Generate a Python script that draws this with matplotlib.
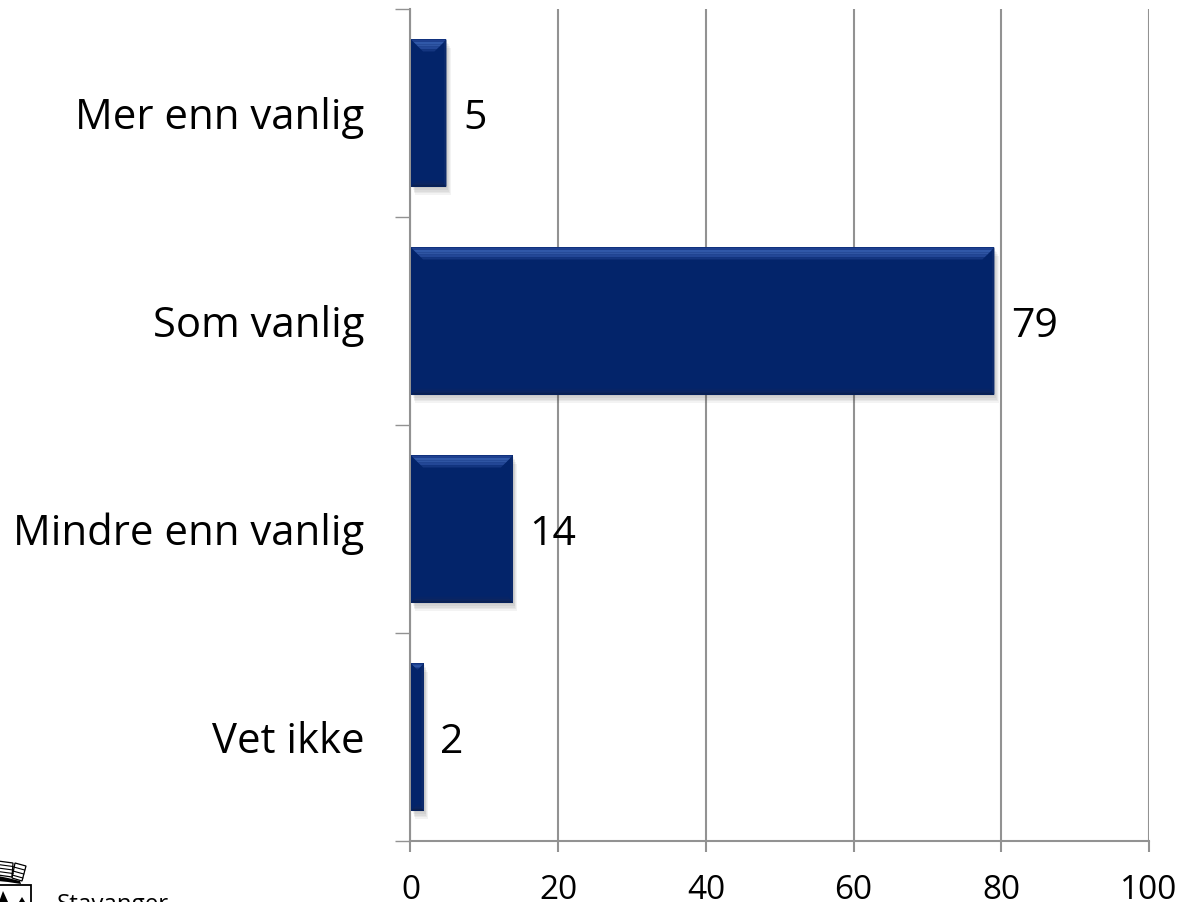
#!/usr/bin/env python3
"""Stolpediagram: Mer enn vanlig / Som vanlig / Mindre enn vanlig / Vet ikke."""

import matplotlib
matplotlib.use("Agg")
import matplotlib.pyplot as plt
import matplotlib.patheffects as pe
from matplotlib.patches import Polygon, Rectangle

plt.rcParams["font.family"] = ["Open Sans", "DejaVu Sans"]

CATEGORIES = ["Mer enn vanlig", "Som vanlig", "Mindre enn vanlig", "Vet ikke"]
VALUES = [4.8, 79.0, 13.8, 1.75]
VALUE_LABELS = ["5", "79", "14", "2"]
XTICKS = [0, 20, 40, 60, 80, 100]

W, H = 1179, 903
GREY = "#929292"
NAVY = "#03246a"
TOP_BANDS = ["#1f4090", "#3058a8", "#2f55a3", "#234796", "#143680"]
BOTTOM_BANDS = ["#0a2050", "#0c2560", "#072466"]
PX_X = 100 / 738.5
PX_Y = 1 / 208


def trapezoids(ax, x0, x1, y_edge, sign, bands, step, inset=1.0):
    # avfaset kant: et lag per farge
    for i, col in enumerate(bands):
        a, b = i * step, (i + 1) * step
        ax.add_patch(Polygon([
            (x0 + a * PX_X, y_edge + sign * a * PX_Y),
            (x1 - a * inset * PX_X, y_edge + sign * a * PX_Y),
            (x1 - b * inset * PX_X, y_edge + sign * b * PX_Y),
            (x0 + b * PX_X, y_edge + sign * b * PX_Y),
        ], fc=col, ec="none", zorder=4))


def bevel(ax, bar):
    x0, x1 = bar.get_x(), bar.get_x() + bar.get_width()
    y0, y1 = bar.get_y(), bar.get_y() + bar.get_height()
    step = 2.4 if bar.get_width() > 3 else 1.2
    trapezoids(ax, x0, x1, y0, 1, TOP_BANDS, step)
    trapezoids(ax, x0, x1, y1, -1, BOTTOM_BANDS, 2.0, inset=0.8)
    ax.add_patch(Polygon([(x1, y0), (x1, y1), (x1 - 2.5 * PX_X, y1 - 2.5 * PX_Y),
                          (x1 - 2.5 * PX_X, y0 + 2.5 * PX_Y)],
                         fc="#0c2a6c", ec="none", zorder=4))


def main():
    fig = plt.figure(figsize=(W / 100, H / 100), dpi=100)
    ax = fig.add_axes([410.5 / W, 1 - 842 / H, 738.5 / W, 832 / H])

    ypos = list(range(len(CATEGORIES)))
    bars = ax.barh(ypos, VALUES, height=0.707, left=0.07, color=NAVY, zorder=3)
    shadow = [pe.SimplePatchShadow(offset=(o * 0.6, -o * 1.2), shadow_rgbFace="#333333", alpha=0.06)
              for o in (5, 4, 3, 2, 1)]
    for b in bars:
        b.set_path_effects(shadow + [pe.Normal()])
        bevel(ax, b)

    ax.set_xlim(0, 100)
    ax.set_ylim(3.5, -0.5)
    ax.set_yticks([i - 0.5 for i in range(len(CATEGORIES) + 1)])
    ax.set_yticklabels([])
    ax.set_xticks(XTICKS)
    ax.set_xticklabels([str(v) for v in XTICKS], fontsize=24)
    ax.tick_params(axis="x", length=8, width=1.5, color=GREY, pad=15, labelcolor="black")
    ax.tick_params(axis="y", length=11, width=1.0, color=GREY)
    ax.grid(axis="x", color=GREY, lw=1.5, zorder=1)
    ax.set_axisbelow(True)

    for side in ("top", "right"):
        ax.spines[side].set_visible(False)
    for side in ("left", "bottom"):
        ax.spines[side].set_color(GREY)
        ax.spines[side].set_linewidth(1.5)

    for y, cat, v, lab in zip(ypos, CATEGORIES, VALUES, VALUE_LABELS):
        ax.annotate(cat, (0, y), xytext=(-46, -4), textcoords="offset pixels",
                    ha="right", va="center", fontsize=30.2, color="black")
        ax.annotate(lab, (v, y), xytext=(17, -5), textcoords="offset pixels",
                    ha="left", va="center", fontsize=29.5, color="black", zorder=6)

    # logo nederst til venstre, beskaaret av bildekanten
    ax_logo = fig.add_axes([0, 0, 1, 1], facecolor="none")
    ax_logo.set_xlim(0, W)
    ax_logo.set_ylim(H, 0)
    ax_logo.axis("off")
    ax_logo.add_patch(Rectangle((-5, 886), 35.5, 30, fc="white", ec="black", lw=1.3))
    ax_logo.add_patch(Polygon([(-2, 877), (8, 879), (20, 882), (21, 885), (8, 883), (-2, 882)],
                              fc="black", ec="none"))
    # taarn paa kronen
    ax_logo.add_patch(Polygon([(15, 864), (26, 867), (22, 882), (12, 879)],
                              fc="white", ec="black", lw=0.9))
    ax_logo.add_patch(Polygon([(-2, 862), (13, 864), (12, 878), (-2, 876)],
                              fc="white", ec="black", lw=0.9))
    for i in range(1, 4):
        ax_logo.plot([14.5 - i * 0.8, 25.5 - i * 0.9], [864 + i * 4, 867 + i * 4], color="black", lw=0.8)
        ax_logo.plot([-2, 13], [862 + i * 3.5, 864 + i * 3.5], color="black", lw=0.8)
    ax_logo.add_patch(Polygon([(-1, 903), (3, 892), (8, 903)], fc="black", ec="none"))
    ax_logo.add_patch(Polygon([(19, 903), (22, 898), (25, 903)], fc="black", ec="none"))
    ax_logo.text(57, 893, "Stavanger", fontsize=17.4, color="black", va="top", ha="left")

    fig.savefig("out.png", dpi=100)
    plt.close(fig)


if __name__ == "__main__":
    main()
